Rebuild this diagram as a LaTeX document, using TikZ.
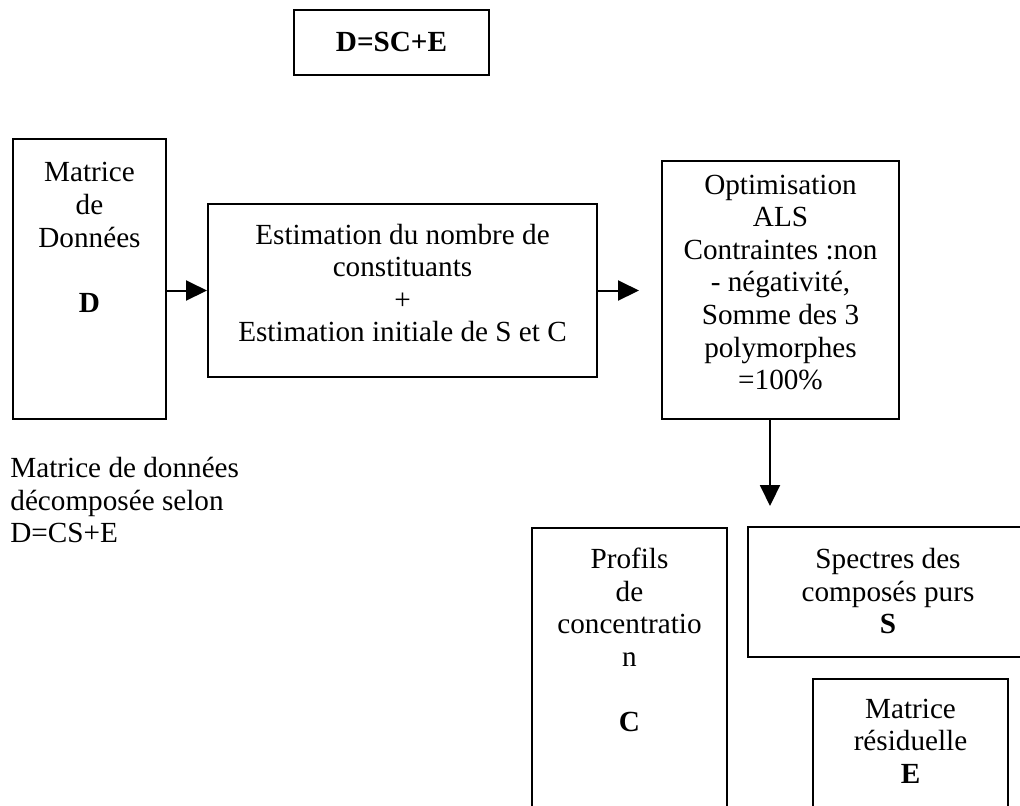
\documentclass[tikz,border=0pt]{standalone}
\usepackage{fontspec}
\setmainfont{Liberation Serif}
\usetikzlibrary{arrows.meta}

\begin{document}
\begin{tikzpicture}[x=0.5pt,y=-0.5pt,
box/.style={draw,line width=1pt,inner sep=0pt},
txt/.style={align=center,inner sep=0pt,font=\fontsize{14.6}{16.3}\selectfont},
arr/.style={line width=1pt,-{Triangle[length=10.5pt,width=10pt]}}]
\useasboundingbox (0,0) rectangle (1020,805);
\clip (0,0) rectangle (1020,805);
% the boxes
\node[box,minimum width=97.5pt,minimum height=32.5pt] (eq) at (391.5,42) {};
\node[box,minimum width=76.5pt,minimum height=140pt] (mat) at (89.5,279) {};
\node[box,minimum width=194.5pt,minimum height=86.5pt] (est) at (402.5,290.5) {};
\node[box,minimum width=118.5pt,minimum height=129pt] (opt) at (780.5,290) {};
\node[box,minimum width=97.5pt,minimum height=156pt] (prof) at (629.5,684) {};
\node[box,minimum width=140pt,minimum height=65pt] (spec) at (888,592) {};
\node[box,minimum width=97.5pt,minimum height=80.5pt] (res) at (910.5,759.5) {};
% the texts
\node[txt] (eq-t) at (391.5,42) {\textbf{D=SC+E}};
\node[txt] (mat-t) at (89.5,237.5) {Matrice\\de\\Données\\~\\\textbf{D}};
\node[txt] (est-t) at (402.5,283) {Estimation du nombre de\\constituants\\+\\Estimation initiale de S et C};
\node[txt] (opt-t) at (780.5,282.5) {Optimisation\\ALS\\Contraintes :non\\- négativité,\\Somme des 3\\polymorphes\\=100\%};
\node[txt,align=left,anchor=west] (note) at (10,500) {Matrice de données\\décomposée selon\\D=CS+E};
\node[txt] (prof-t) at (629.5,640) {Profils\\de\\concentratio\\n\\~\\\textbf{C}};
\node[txt] (spec-t) at (888,591) {Spectres des\\composés purs\\\textbf{S}};
\node[txt] (res-t) at (910.5,741) {Matrice\\résiduelle\\\textbf{E}};
% the arrows
\coordinate (drop) at (770,506);
\draw[arr] (mat.east |- est.west) -- (est.west);
\draw[arr,shorten >=11pt] (est.east) -- (est.east -| opt.west);
\draw[arr] (drop |- opt.south) -- (drop);
\end{tikzpicture}
\end{document}
